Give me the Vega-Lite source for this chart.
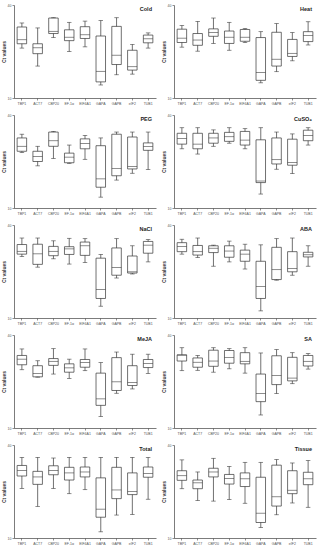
{
"$schema": "https://vega.github.io/schema/vega-lite/v6.json",
"padding": {"left": 1, "top": 3, "right": 2, "bottom": 1},
"datasets": {"d": [
{"c":"Cold","g":"TBP1","lo":26.1,"q1":27.5,"md":28.8,"q3":32.9,"hi":34.2},
{"c":"Cold","g":"ACT7","lo":20.3,"q1":24.3,"md":26.2,"q3":27.5,"hi":32.6},
{"c":"Cold","g":"CBP20","lo":29.5,"q1":30.8,"md":31.5,"q3":35.8,"hi":35.9},
{"c":"Cold","g":"EF-1α","lo":25.0,"q1":28.5,"md":29.6,"q3":32.0,"hi":34.4},
{"c":"Cold","g":"EIF4A1","lo":26.5,"q1":29.2,"md":30.4,"q3":33.0,"hi":34.8},
{"c":"Cold","g":"GAPA","lo":14.2,"q1":15.2,"md":18.6,"q3":30.0,"hi":35.0},
{"c":"Cold","g":"GAPB","lo":17.5,"q1":20.8,"md":23.8,"q3":33.1,"hi":35.9},
{"c":"Cold","g":"eIF2","lo":17.7,"q1":19.0,"md":20.1,"q3":25.4,"hi":27.3},
{"c":"Cold","g":"TUB1","lo":26.1,"q1":27.8,"md":29.1,"q3":30.3,"hi":31.0},
{"c":"Heat","g":"TBP1","lo":26.4,"q1":27.9,"md":29.3,"q3":32.2,"hi":33.4},
{"c":"Heat","g":"ACT7","lo":25.1,"q1":27.0,"md":28.7,"q3":30.8,"hi":34.7},
{"c":"Heat","g":"CBP20","lo":27.6,"q1":29.9,"md":31.1,"q3":32.3,"hi":35.8},
{"c":"Heat","g":"EF-1α","lo":25.4,"q1":27.6,"md":29.6,"q3":31.6,"hi":34.4},
{"c":"Heat","g":"EIF4A1","lo":27.9,"q1":28.3,"md":29.6,"q3":32.1,"hi":32.4},
{"c":"Heat","g":"GAPA","lo":14.9,"q1":15.7,"md":18.2,"q3":29.5,"hi":31.4},
{"c":"Heat","g":"GAPB","lo":18.5,"q1":20.3,"md":22.5,"q3":31.2,"hi":34.0},
{"c":"Heat","g":"eIF2","lo":22.0,"q1":23.4,"md":24.4,"q3":28.9,"hi":31.1},
{"c":"Heat","g":"TUB1","lo":27.1,"q1":28.2,"md":30.2,"q3":31.4,"hi":34.6},
{"c":"PEG","g":"TBP1","lo":27.9,"q1":28.3,"md":29.9,"q3":32.6,"hi":33.8},
{"c":"PEG","g":"ACT7","lo":23.6,"q1":25.0,"md":26.6,"q3":28.3,"hi":29.9},
{"c":"PEG","g":"CBP20","lo":26.0,"q1":29.9,"md":31.7,"q3":34.5,"hi":34.7},
{"c":"PEG","g":"EF-1α","lo":24.4,"q1":24.6,"md":26.4,"q3":27.7,"hi":30.3},
{"c":"PEG","g":"EIF4A1","lo":25.7,"q1":29.1,"md":30.8,"q3":32.3,"hi":33.4},
{"c":"PEG","g":"GAPA","lo":13.5,"q1":16.7,"md":19.4,"q3":30.1,"hi":32.6},
{"c":"PEG","g":"GAPB","lo":19.0,"q1":20.4,"md":22.7,"q3":33.8,"hi":34.5},
{"c":"PEG","g":"eIF2","lo":21.2,"q1":22.6,"md":23.4,"q3":32.9,"hi":34.5},
{"c":"PEG","g":"TUB1","lo":22.4,"q1":28.6,"md":29.8,"q3":31.0,"hi":34.5},
{"c":"CuSO₄","g":"TBP1","lo":29.1,"q1":30.6,"md":32.4,"q3":34.1,"hi":35.9},
{"c":"CuSO₄","g":"ACT7","lo":27.4,"q1":29.1,"md":30.6,"q3":34.1,"hi":35.9},
{"c":"CuSO₄","g":"CBP20","lo":29.9,"q1":30.9,"md":32.6,"q3":34.1,"hi":35.2},
{"c":"CuSO₄","g":"EF-1α","lo":30.9,"q1":31.5,"md":33.0,"q3":34.4,"hi":35.9},
{"c":"CuSO₄","g":"EIF4A1","lo":29.1,"q1":30.3,"md":31.9,"q3":34.7,"hi":35.6},
{"c":"CuSO₄","g":"GAPA","lo":14.5,"q1":18.2,"md":18.7,"q3":32.0,"hi":35.9},
{"c":"CuSO₄","g":"GAPB","lo":22.5,"q1":24.2,"md":25.6,"q3":32.6,"hi":34.5},
{"c":"CuSO₄","g":"eIF2","lo":21.1,"q1":23.8,"md":24.7,"q3":32.2,"hi":33.9},
{"c":"CuSO₄","g":"TUB1","lo":30.3,"q1":31.7,"md":33.4,"q3":35.1,"hi":35.9},
{"c":"NaCl","g":"TBP1","lo":29.8,"q1":30.6,"md":31.5,"q3":33.7,"hi":35.8},
{"c":"NaCl","g":"ACT7","lo":26.4,"q1":27.3,"md":30.7,"q3":33.8,"hi":35.8},
{"c":"NaCl","g":"CBP20","lo":29.1,"q1":30.1,"md":31.5,"q3":33.1,"hi":34.9},
{"c":"NaCl","g":"EF-1α","lo":27.4,"q1":30.5,"md":32.3,"q3":33.0,"hi":35.7},
{"c":"NaCl","g":"EIF4A1","lo":27.9,"q1":30.2,"md":33.3,"q3":34.5,"hi":35.6},
{"c":"NaCl","g":"GAPA","lo":13.8,"q1":16.3,"md":19.2,"q3":29.3,"hi":30.5},
{"c":"NaCl","g":"GAPB","lo":22.9,"q1":23.8,"md":26.3,"q3":32.6,"hi":35.6},
{"c":"NaCl","g":"eIF2","lo":24.2,"q1":24.5,"md":24.9,"q3":30.0,"hi":33.3},
{"c":"NaCl","g":"TUB1","lo":28.1,"q1":30.9,"md":33.5,"q3":34.7,"hi":35.3},
{"c":"ABA","g":"TBP1","lo":30.6,"q1":31.4,"md":33.1,"q3":34.3,"hi":35.4},
{"c":"ABA","g":"ACT7","lo":29.5,"q1":30.3,"md":31.4,"q3":33.4,"hi":35.8},
{"c":"ABA","g":"CBP20","lo":26.7,"q1":31.1,"md":32.5,"q3":33.3,"hi":33.5},
{"c":"ABA","g":"EF-1α","lo":28.1,"q1":29.6,"md":31.6,"q3":33.3,"hi":34.8},
{"c":"ABA","g":"EIF4A1","lo":25.8,"q1":28.3,"md":30.6,"q3":31.9,"hi":33.8},
{"c":"ABA","g":"GAPA","lo":12.3,"q1":16.3,"md":20.2,"q3":28.3,"hi":33.6},
{"c":"ABA","g":"GAPB","lo":22.2,"q1":22.4,"md":25.6,"q3":32.8,"hi":35.6},
{"c":"ABA","g":"eIF2","lo":23.8,"q1":24.9,"md":26.0,"q3":31.4,"hi":35.8},
{"c":"ABA","g":"TUB1","lo":26.7,"q1":29.7,"md":30.4,"q3":31.2,"hi":33.3},
{"c":"MeJA","g":"TBP1","lo":28.8,"q1":30.4,"md":32.2,"q3":33.4,"hi":35.5},
{"c":"MeJA","g":"ACT7","lo":26.4,"q1":26.5,"md":27.6,"q3":30.1,"hi":31.7},
{"c":"MeJA","g":"CBP20","lo":27.4,"q1":30.2,"md":31.5,"q3":32.4,"hi":35.6},
{"c":"MeJA","g":"EF-1α","lo":26.0,"q1":28.0,"md":29.4,"q3":30.7,"hi":32.2},
{"c":"MeJA","g":"EIF4A1","lo":28.5,"q1":29.6,"md":31.1,"q3":32.1,"hi":35.5},
{"c":"MeJA","g":"GAPA","lo":13.7,"q1":17.3,"md":19.4,"q3":27.7,"hi":31.1},
{"c":"MeJA","g":"GAPB","lo":21.2,"q1":22.1,"md":24.9,"q3":32.7,"hi":34.5},
{"c":"MeJA","g":"eIF2","lo":22.6,"q1":23.7,"md":24.7,"q3":30.1,"hi":33.8},
{"c":"MeJA","g":"TUB1","lo":27.6,"q1":29.5,"md":30.8,"q3":32.1,"hi":33.8},
{"c":"SA","g":"TBP1","lo":28.5,"q1":31.6,"md":33.5,"q3":33.6,"hi":35.9},
{"c":"SA","g":"ACT7","lo":28.6,"q1":29.6,"md":31.2,"q3":32.6,"hi":33.4},
{"c":"SA","g":"CBP20","lo":28.0,"q1":29.9,"md":31.6,"q3":35.1,"hi":35.9},
{"c":"SA","g":"EF-1α","lo":29.1,"q1":30.9,"md":32.7,"q3":35.0,"hi":35.6},
{"c":"SA","g":"EIF4A1","lo":27.7,"q1":30.7,"md":31.5,"q3":34.3,"hi":35.9},
{"c":"SA","g":"GAPA","lo":14.2,"q1":18.5,"md":21.1,"q3":27.4,"hi":34.2},
{"c":"SA","g":"GAPB","lo":21.1,"q1":24.0,"md":26.9,"q3":33.3,"hi":35.3},
{"c":"SA","g":"eIF2","lo":24.3,"q1":25.2,"md":26.1,"q3":32.8,"hi":34.3},
{"c":"SA","g":"TUB1","lo":29.0,"q1":30.0,"md":31.5,"q3":33.4,"hi":34.0},
{"c":"Total","g":"TBP1","lo":26.0,"q1":30.0,"md":31.8,"q3":33.4,"hi":36.0},
{"c":"Total","g":"ACT7","lo":20.2,"q1":27.3,"md":29.7,"q3":31.5,"hi":36.0},
{"c":"Total","g":"CBP20","lo":26.0,"q1":30.4,"md":31.8,"q3":33.3,"hi":35.8},
{"c":"Total","g":"EF-1α","lo":24.3,"q1":28.7,"md":31.0,"q3":32.8,"hi":36.0},
{"c":"Total","g":"EIF4A1","lo":25.6,"q1":29.7,"md":31.3,"q3":32.9,"hi":36.0},
{"c":"Total","g":"GAPA","lo":12.0,"q1":16.7,"md":19.3,"q3":29.4,"hi":36.0},
{"c":"Total","g":"GAPB","lo":17.4,"q1":22.7,"md":25.5,"q3":32.8,"hi":36.0},
{"c":"Total","g":"eIF2","lo":17.6,"q1":24.0,"md":25.0,"q3":31.0,"hi":36.0},
{"c":"Total","g":"TUB1","lo":22.5,"q1":29.6,"md":30.8,"q3":32.9,"hi":36.0},
{"c":"Tissue","g":"TBP1","lo":25.9,"q1":28.6,"md":30.1,"q3":31.7,"hi":35.2},
{"c":"Tissue","g":"ACT7","lo":22.1,"q1":25.9,"md":27.8,"q3":28.7,"hi":31.3},
{"c":"Tissue","g":"CBP20","lo":21.9,"q1":29.7,"md":31.3,"q3":32.5,"hi":35.7},
{"c":"Tissue","g":"EF-1α","lo":22.4,"q1":27.4,"md":29.2,"q3":30.5,"hi":33.1},
{"c":"Tissue","g":"EIF4A1","lo":21.2,"q1":26.6,"md":29.1,"q3":31.0,"hi":34.4},
{"c":"Tissue","g":"GAPA","lo":13.4,"q1":15.0,"md":18.0,"q3":29.6,"hi":34.4},
{"c":"Tissue","g":"GAPB","lo":17.5,"q1":20.3,"md":23.3,"q3":33.5,"hi":35.3},
{"c":"Tissue","g":"eIF2","lo":21.3,"q1":24.3,"md":25.4,"q3":31.7,"hi":34.2},
{"c":"Tissue","g":"TUB1","lo":19.9,"q1":27.2,"md":29.1,"q3":31.2,"hi":35.0}
]},
"columns": 2,
"spacing": {"row": 8, "column": 5},
"concat": [
{"title":"Cold","width":142,"height":93,"data":{"name":"d"},"transform":[{"filter":"datum.c==='Cold'"}],"encoding":{"x":{"field":"g","type":"nominal","sort":["TBP1","ACT7","CBP20","EF-1α","EIF4A1","GAPA","GAPB","eIF2","TUB1"],"title":null}},"layer":[{"mark":{"type":"rule","color":"#333","strokeWidth":0.7},"encoding":{"y":{"field":"lo","type":"quantitative","scale":{"domain":[10,40],"nice":false},"axis":{"values":[10,20,30,40]},"title":"Ct values"},"y2":{"field":"hi"}}},{"mark":{"type":"bar","fill":"white","stroke":"#333","strokeWidth":0.7,"size":9.5},"encoding":{"y":{"field":"q1","type":"quantitative"},"y2":{"field":"q3"}}},{"mark":{"type":"tick","color":"#333","thickness":0.8,"size":9.5},"encoding":{"y":{"field":"md","type":"quantitative"}}},{"mark":{"type":"tick","color":"#333","thickness":0.8,"size":4.5},"encoding":{"y":{"field":"lo","type":"quantitative"}}},{"mark":{"type":"tick","color":"#333","thickness":0.8,"size":4.5},"encoding":{"y":{"field":"hi","type":"quantitative"}}}]},
{"title":"Heat","width":142,"height":93,"data":{"name":"d"},"transform":[{"filter":"datum.c==='Heat'"}],"encoding":{"x":{"field":"g","type":"nominal","sort":["TBP1","ACT7","CBP20","EF-1α","EIF4A1","GAPA","GAPB","eIF2","TUB1"],"title":null}},"layer":[{"mark":{"type":"rule","color":"#333","strokeWidth":0.7},"encoding":{"y":{"field":"lo","type":"quantitative","scale":{"domain":[10,40],"nice":false},"axis":{"values":[10,20,30,40]},"title":"Ct values"},"y2":{"field":"hi"}}},{"mark":{"type":"bar","fill":"white","stroke":"#333","strokeWidth":0.7,"size":9.5},"encoding":{"y":{"field":"q1","type":"quantitative"},"y2":{"field":"q3"}}},{"mark":{"type":"tick","color":"#333","thickness":0.8,"size":9.5},"encoding":{"y":{"field":"md","type":"quantitative"}}},{"mark":{"type":"tick","color":"#333","thickness":0.8,"size":4.5},"encoding":{"y":{"field":"lo","type":"quantitative"}}},{"mark":{"type":"tick","color":"#333","thickness":0.8,"size":4.5},"encoding":{"y":{"field":"hi","type":"quantitative"}}}]},
{"title":"PEG","width":142,"height":93,"data":{"name":"d"},"transform":[{"filter":"datum.c==='PEG'"}],"encoding":{"x":{"field":"g","type":"nominal","sort":["TBP1","ACT7","CBP20","EF-1α","EIF4A1","GAPA","GAPB","eIF2","TUB1"],"title":null}},"layer":[{"mark":{"type":"rule","color":"#333","strokeWidth":0.7},"encoding":{"y":{"field":"lo","type":"quantitative","scale":{"domain":[10,40],"nice":false},"axis":{"values":[10,20,30,40]},"title":"Ct values"},"y2":{"field":"hi"}}},{"mark":{"type":"bar","fill":"white","stroke":"#333","strokeWidth":0.7,"size":9.5},"encoding":{"y":{"field":"q1","type":"quantitative"},"y2":{"field":"q3"}}},{"mark":{"type":"tick","color":"#333","thickness":0.8,"size":9.5},"encoding":{"y":{"field":"md","type":"quantitative"}}},{"mark":{"type":"tick","color":"#333","thickness":0.8,"size":4.5},"encoding":{"y":{"field":"lo","type":"quantitative"}}},{"mark":{"type":"tick","color":"#333","thickness":0.8,"size":4.5},"encoding":{"y":{"field":"hi","type":"quantitative"}}}]},
{"title":"CuSO₄","width":142,"height":93,"data":{"name":"d"},"transform":[{"filter":"datum.c==='CuSO₄'"}],"encoding":{"x":{"field":"g","type":"nominal","sort":["TBP1","ACT7","CBP20","EF-1α","EIF4A1","GAPA","GAPB","eIF2","TUB1"],"title":null}},"layer":[{"mark":{"type":"rule","color":"#333","strokeWidth":0.7},"encoding":{"y":{"field":"lo","type":"quantitative","scale":{"domain":[10,40],"nice":false},"axis":{"values":[10,20,30,40]},"title":"Ct values"},"y2":{"field":"hi"}}},{"mark":{"type":"bar","fill":"white","stroke":"#333","strokeWidth":0.7,"size":9.5},"encoding":{"y":{"field":"q1","type":"quantitative"},"y2":{"field":"q3"}}},{"mark":{"type":"tick","color":"#333","thickness":0.8,"size":9.5},"encoding":{"y":{"field":"md","type":"quantitative"}}},{"mark":{"type":"tick","color":"#333","thickness":0.8,"size":4.5},"encoding":{"y":{"field":"lo","type":"quantitative"}}},{"mark":{"type":"tick","color":"#333","thickness":0.8,"size":4.5},"encoding":{"y":{"field":"hi","type":"quantitative"}}}]},
{"title":"NaCl","width":142,"height":93,"data":{"name":"d"},"transform":[{"filter":"datum.c==='NaCl'"}],"encoding":{"x":{"field":"g","type":"nominal","sort":["TBP1","ACT7","CBP20","EF-1α","EIF4A1","GAPA","GAPB","eIF2","TUB1"],"title":null}},"layer":[{"mark":{"type":"rule","color":"#333","strokeWidth":0.7},"encoding":{"y":{"field":"lo","type":"quantitative","scale":{"domain":[10,40],"nice":false},"axis":{"values":[10,20,30,40]},"title":"Ct values"},"y2":{"field":"hi"}}},{"mark":{"type":"bar","fill":"white","stroke":"#333","strokeWidth":0.7,"size":9.5},"encoding":{"y":{"field":"q1","type":"quantitative"},"y2":{"field":"q3"}}},{"mark":{"type":"tick","color":"#333","thickness":0.8,"size":9.5},"encoding":{"y":{"field":"md","type":"quantitative"}}},{"mark":{"type":"tick","color":"#333","thickness":0.8,"size":4.5},"encoding":{"y":{"field":"lo","type":"quantitative"}}},{"mark":{"type":"tick","color":"#333","thickness":0.8,"size":4.5},"encoding":{"y":{"field":"hi","type":"quantitative"}}}]},
{"title":"ABA","width":142,"height":93,"data":{"name":"d"},"transform":[{"filter":"datum.c==='ABA'"}],"encoding":{"x":{"field":"g","type":"nominal","sort":["TBP1","ACT7","CBP20","EF-1α","EIF4A1","GAPA","GAPB","eIF2","TUB1"],"title":null}},"layer":[{"mark":{"type":"rule","color":"#333","strokeWidth":0.7},"encoding":{"y":{"field":"lo","type":"quantitative","scale":{"domain":[10,40],"nice":false},"axis":{"values":[10,20,30,40]},"title":"Ct values"},"y2":{"field":"hi"}}},{"mark":{"type":"bar","fill":"white","stroke":"#333","strokeWidth":0.7,"size":9.5},"encoding":{"y":{"field":"q1","type":"quantitative"},"y2":{"field":"q3"}}},{"mark":{"type":"tick","color":"#333","thickness":0.8,"size":9.5},"encoding":{"y":{"field":"md","type":"quantitative"}}},{"mark":{"type":"tick","color":"#333","thickness":0.8,"size":4.5},"encoding":{"y":{"field":"lo","type":"quantitative"}}},{"mark":{"type":"tick","color":"#333","thickness":0.8,"size":4.5},"encoding":{"y":{"field":"hi","type":"quantitative"}}}]},
{"title":"MeJA","width":142,"height":93,"data":{"name":"d"},"transform":[{"filter":"datum.c==='MeJA'"}],"encoding":{"x":{"field":"g","type":"nominal","sort":["TBP1","ACT7","CBP20","EF-1α","EIF4A1","GAPA","GAPB","eIF2","TUB1"],"title":null}},"layer":[{"mark":{"type":"rule","color":"#333","strokeWidth":0.7},"encoding":{"y":{"field":"lo","type":"quantitative","scale":{"domain":[10,40],"nice":false},"axis":{"values":[10,20,30,40]},"title":"Ct values"},"y2":{"field":"hi"}}},{"mark":{"type":"bar","fill":"white","stroke":"#333","strokeWidth":0.7,"size":9.5},"encoding":{"y":{"field":"q1","type":"quantitative"},"y2":{"field":"q3"}}},{"mark":{"type":"tick","color":"#333","thickness":0.8,"size":9.5},"encoding":{"y":{"field":"md","type":"quantitative"}}},{"mark":{"type":"tick","color":"#333","thickness":0.8,"size":4.5},"encoding":{"y":{"field":"lo","type":"quantitative"}}},{"mark":{"type":"tick","color":"#333","thickness":0.8,"size":4.5},"encoding":{"y":{"field":"hi","type":"quantitative"}}}]},
{"title":"SA","width":142,"height":93,"data":{"name":"d"},"transform":[{"filter":"datum.c==='SA'"}],"encoding":{"x":{"field":"g","type":"nominal","sort":["TBP1","ACT7","CBP20","EF-1α","EIF4A1","GAPA","GAPB","eIF2","TUB1"],"title":null}},"layer":[{"mark":{"type":"rule","color":"#333","strokeWidth":0.7},"encoding":{"y":{"field":"lo","type":"quantitative","scale":{"domain":[10,40],"nice":false},"axis":{"values":[10,20,30,40]},"title":"Ct values"},"y2":{"field":"hi"}}},{"mark":{"type":"bar","fill":"white","stroke":"#333","strokeWidth":0.7,"size":9.5},"encoding":{"y":{"field":"q1","type":"quantitative"},"y2":{"field":"q3"}}},{"mark":{"type":"tick","color":"#333","thickness":0.8,"size":9.5},"encoding":{"y":{"field":"md","type":"quantitative"}}},{"mark":{"type":"tick","color":"#333","thickness":0.8,"size":4.5},"encoding":{"y":{"field":"lo","type":"quantitative"}}},{"mark":{"type":"tick","color":"#333","thickness":0.8,"size":4.5},"encoding":{"y":{"field":"hi","type":"quantitative"}}}]},
{"title":"Total","width":142,"height":93,"data":{"name":"d"},"transform":[{"filter":"datum.c==='Total'"}],"encoding":{"x":{"field":"g","type":"nominal","sort":["TBP1","ACT7","CBP20","EF-1α","EIF4A1","GAPA","GAPB","eIF2","TUB1"],"title":null}},"layer":[{"mark":{"type":"rule","color":"#333","strokeWidth":0.7},"encoding":{"y":{"field":"lo","type":"quantitative","scale":{"domain":[10,40],"nice":false},"axis":{"values":[10,20,30,40]},"title":"Ct values"},"y2":{"field":"hi"}}},{"mark":{"type":"bar","fill":"white","stroke":"#333","strokeWidth":0.7,"size":9.5},"encoding":{"y":{"field":"q1","type":"quantitative"},"y2":{"field":"q3"}}},{"mark":{"type":"tick","color":"#333","thickness":0.8,"size":9.5},"encoding":{"y":{"field":"md","type":"quantitative"}}},{"mark":{"type":"tick","color":"#333","thickness":0.8,"size":4.5},"encoding":{"y":{"field":"lo","type":"quantitative"}}},{"mark":{"type":"tick","color":"#333","thickness":0.8,"size":4.5},"encoding":{"y":{"field":"hi","type":"quantitative"}}}]},
{"title":"Tissue","width":142,"height":93,"data":{"name":"d"},"transform":[{"filter":"datum.c==='Tissue'"}],"encoding":{"x":{"field":"g","type":"nominal","sort":["TBP1","ACT7","CBP20","EF-1α","EIF4A1","GAPA","GAPB","eIF2","TUB1"],"title":null}},"layer":[{"mark":{"type":"rule","color":"#333","strokeWidth":0.7},"encoding":{"y":{"field":"lo","type":"quantitative","scale":{"domain":[10,40],"nice":false},"axis":{"values":[10,20,30,40]},"title":"Ct values"},"y2":{"field":"hi"}}},{"mark":{"type":"bar","fill":"white","stroke":"#333","strokeWidth":0.7,"size":9.5},"encoding":{"y":{"field":"q1","type":"quantitative"},"y2":{"field":"q3"}}},{"mark":{"type":"tick","color":"#333","thickness":0.8,"size":9.5},"encoding":{"y":{"field":"md","type":"quantitative"}}},{"mark":{"type":"tick","color":"#333","thickness":0.8,"size":4.5},"encoding":{"y":{"field":"lo","type":"quantitative"}}},{"mark":{"type":"tick","color":"#333","thickness":0.8,"size":4.5},"encoding":{"y":{"field":"hi","type":"quantitative"}}}]}
],
"config": {
"view": {"stroke": null},
"font": "Liberation Sans",
"title": {"anchor": "end", "fontSize": 5.5, "fontWeight": "bold", "color": "#222", "offset": 0, "dy": 13, "dx": -4},
"axis": {"grid": false, "domainColor": "#444", "domainWidth": 0.7, "tickColor": "#444", "tickWidth": 0.6, "tickSize": 2, "labelFontSize": 3.5, "labelColor": "#555", "labelPadding": 1, "titleFontSize": 5, "titleFontWeight": "bold", "titleColor": "#333", "titlePadding": 1},
"axisX": {"labelAngle": 0},
"scale": {"bandPaddingInner": 0.4}
}
}
